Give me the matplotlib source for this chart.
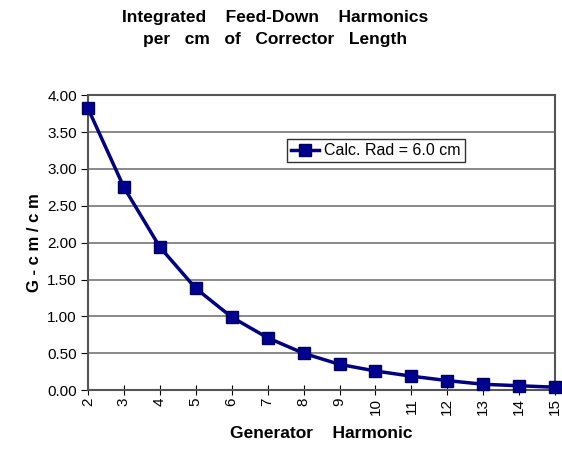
import numpy as np
import matplotlib
matplotlib.use('Agg')
import matplotlib.pyplot as plt

harmonic = [2, 3, 4, 5, 6, 7, 8, 9, 10, 11, 12, 13, 14, 15]
g_per_cm = [3.82, 2.75, 1.94, 1.38, 0.99, 0.71, 0.50, 0.35, 0.26, 0.19, 0.13, 0.08, 0.06, 0.04]
y_ticks = [0.0, 0.5, 1.0, 1.5, 2.0, 2.5, 3.0, 3.5, 4.0]

plt.rcParams['font.family'] = ['Liberation Sans', 'DejaVu Sans']

fig = plt.figure(figsize=(5.62, 4.49), dpi=100)
ax = fig.add_axes([0.1566, 0.131, 0.8312, 0.657])

ax.plot(harmonic, g_per_cm, color='#000080', linewidth=2.5, marker='s',
        markersize=9, markerfacecolor='#000090', markeredgecolor='#000060',
        label='Calc. Rad = 6.0 cm', zorder=3, clip_on=False)

ax.set_xlim(2, 15)
ax.set_ylim(0, 4)
ax.set_xticks(harmonic)
ax.set_xticklabels([str(h) for h in harmonic], rotation=90, fontsize=11)
ax.set_yticks(y_ticks)
ax.set_yticklabels([f"{v:.2f}" for v in y_ticks], fontsize=11)
ax.yaxis.grid(True, color='#808080', linewidth=1.3)
ax.tick_params(axis='x', direction='inout', length=7, pad=2)
ax.tick_params(axis='y', direction='out', length=5, pad=3)

for side in ax.spines.values():
    side.set_linestyle((0, (1, 1)))
    side.set_color('#555555')
    side.set_linewidth(1.5)

ax.set_ylabel('G - c m / c m', fontsize=12, fontweight='bold', labelpad=4)
ax.set_xlabel('Generator    Harmonic', fontsize=12.5, fontweight='bold', labelpad=8)
fig.text(0.489, 0.978, 'Integrated    Feed-Down    Harmonics\nper   cm   of   Corrector   Length',
         ha='center', va='top', fontsize=12.5, fontweight='bold', linespacing=1.6)

leg = ax.legend(loc='upper left', bbox_to_anchor=(0.425, 0.85), fontsize=11.5,
                frameon=True, fancybox=False, handlelength=1.8, handletextpad=0.3,
                borderpad=0.25, borderaxespad=0)
leg.get_frame().set_edgecolor('black')
leg.get_frame().set_linewidth(1)

fig.savefig('out.png', dpi=100)
